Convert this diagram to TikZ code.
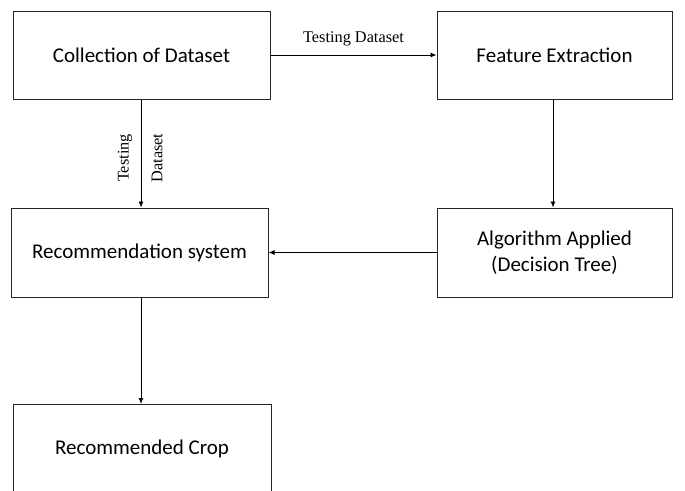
\documentclass[tikz,border=0pt]{standalone}
\usepackage{fontspec}
\setmainfont{Carlito}
\newfontfamily\labelfont{Liberation Serif}
\usetikzlibrary{arrows.meta}
\begin{document}
\begin{tikzpicture}[x=1pt,y=-1pt,
  boxstyle/.style={draw=black!85, line width=1pt, inner sep=0pt, font=\fontsize{21}{25.5}\selectfont, align=center},
  conn/.style={draw=black, line width=0.9pt, -{Latex[length=6pt,width=5pt]}},
  lbl/.style={font=\labelfont\fontsize{16.3}{19}\selectfont, inner sep=1pt}]
\useasboundingbox (0,0) rectangle (685,490);
\clip (0,0) rectangle (685,490);
\node[boxstyle, minimum width=257pt, minimum height=88pt] (coll) at (141.5,55) {Collection of Dataset};
\node[boxstyle, minimum width=235pt, minimum height=88pt] (feat) at (554.5,55) {Feature Extraction};
\node[boxstyle, minimum width=257pt, minimum height=89pt] (rec) at (139.5,252.5) {Recommendation system};
\node[boxstyle, minimum width=235pt, minimum height=89pt] (alg) at (554.5,252.5) {Algorithm Applied\\(Decision Tree)};
\node[boxstyle, minimum width=258pt, minimum height=90pt, anchor=north] (crop) at (142,404) {};
\node[font=\fontsize{21}{25.5}\selectfont] (croptext) at (142,449) {Recommended Crop};
\draw[conn] (coll.east) -- (feat.west) node[lbl, midway, above=8pt] (l1) {Testing Dataset};
\draw[conn] (coll.south -| 141,0) -- (rec.north -| 141,0);
\node[lbl, rotate=90] (l2) at (125,158) {Testing};
\node[lbl, rotate=90] (l3) at (157,158) {Dataset};
\draw[conn] (feat.south -| 553,0) -- (alg.north -| 553,0);
\draw[conn] (alg.west) -- (rec.east);
\draw[conn] (rec.south -| 141,0) -- (crop.north -| 141,0);
\end{tikzpicture}
\end{document}
